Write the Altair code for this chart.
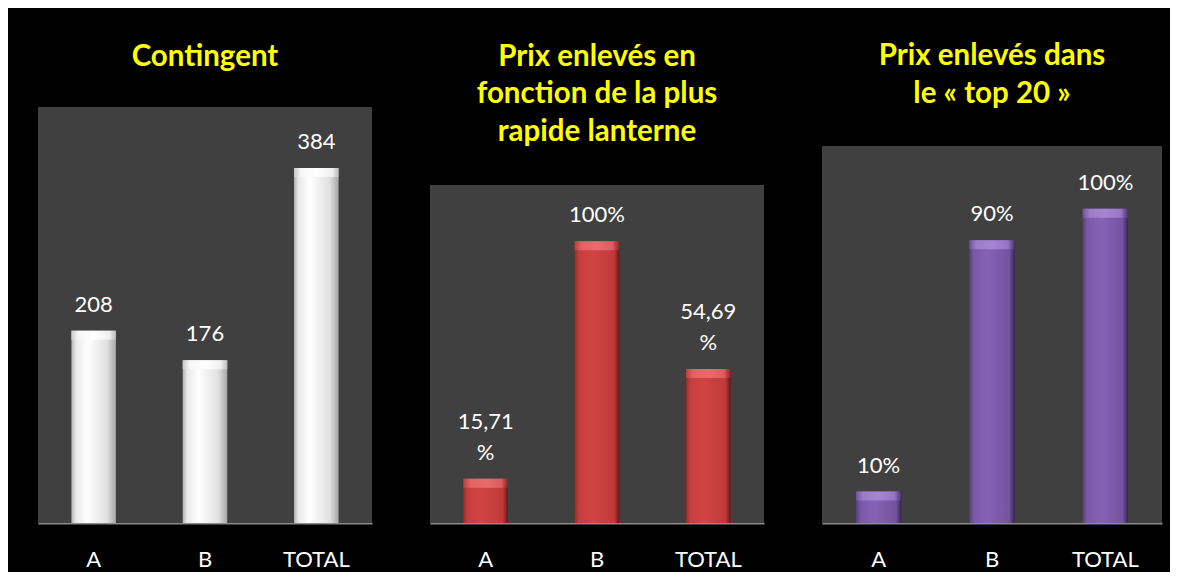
import altair as alt
import pandas as pd

categories = ["A", "B", "TOTAL"]

contingent_values = [208, 176, 384]
contingent_labels = ["208", "176", "384"]
contingent_axis_max = 450

lanterne_values = [0.1571, 1.00, 0.5469]
lanterne_labels = ["15,71\n%", "100%", "54,69\n%"]
lanterne_axis_max = 1.2

top20_values = [0.10, 0.90, 1.00]
top20_labels = ["10%", "90%", "100%"]
top20_axis_max = 1.2

title_contingent = ["Contingent"]
title_lanterne = ["Prix enlevés en", "fonction de la plus", "rapide lanterne"]
title_top20 = ["Prix enlevés dans", "le « top 20 »"]

FONT = "Lato"
VIEW_H = 416  # common height of each panel's drawing area


def grad(stops):
    return alt.Gradient(
        gradient="linear",
        stops=[alt.GradientStop(color=c, offset=o) for o, c in stops],
        x1=0, x2=1, y1=0, y2=0,
    )


white_grad = grad([(0, "#b4b4b4"), (0.1, "#e8e8e8"), (0.35, "#ffffff"),
                   (0.8, "#e0e0e0"), (1, "#a6a6a6")])
red_grad = grad([(0, "#9c2c2c"), (0.1, "#c63e3e"), (0.4, "#d24444"),
                 (0.88, "#c03a3a"), (1, "#641818")])
purple_grad = grad([(0, "#55407c"), (0.1, "#7a5aa8"), (0.4, "#8662b4"),
                    (0.88, "#7354a0"), (1, "#352552")])

white_top = grad([(0, "#c8c8c8"), (0.15, "#f6f6f6"), (0.5, "#ffffff"),
                  (0.85, "#f0f0f0"), (1, "#bcbcbc")])
red_top = grad([(0, "#b84040"), (0.15, "#e06262"), (0.5, "#e86c6c"),
                (0.85, "#dc5e5e"), (1, "#882424")])
purple_top = grad([(0, "#6e5498"), (0.15, "#9a7cc8"), (0.5, "#a486d4"),
                   (0.85, "#9676c4"), (1, "#48346a")])


def panel(values, labels, title, axis_max, width, plot_h, fill, top_fill, title_offset):
    df = pd.DataFrame({"cat": categories, "val": values, "label": labels})
    yscale = alt.Scale(domain=[0, axis_max * VIEW_H / plot_h], nice=False, zero=True)

    bg = alt.Chart(pd.DataFrame({"top": [axis_max]})).mark_rect(color="#404040").encode(
        x=alt.value(0),
        x2=alt.value(width),
        y=alt.Y("top:Q", scale=yscale, axis=None),
        y2=alt.datum(0),
    )

    base = alt.Chart(df).encode(
        x=alt.X(
            "cat:N",
            sort=categories,
            scale=alt.Scale(paddingInner=0.6, paddingOuter=0.3),
            axis=alt.Axis(
                title=None, labelAngle=0, ticks=False, tickSize=0, grid=False,
                domainColor="#8a8a8a", domainWidth=2,
                labelColor="#ffffff", labelFont=FONT, labelFontSize=22,
                labelPadding=26,
            ),
        ),
        y=alt.Y("val:Q", scale=yscale, axis=None),
    )
    bars = base.mark_bar(color=fill)
    bevel = base.mark_bar(color=top_fill, y2Offset=9).encode(
        y2=alt.Y2("val:Q"),
    )
    parts = "split(datum.label, '\\n')"
    text_base = base.transform_calculate(
        lower=f"peek({parts})",
        upper=f"length({parts}) > 1 ? {parts}[0] : ''",
    )
    text_low = text_base.mark_text(
        baseline="bottom", dy=-14, font=FONT, fontSize=22, color="#ffffff",
    ).encode(text="lower:N")
    text_up = text_base.mark_text(
        baseline="bottom", dy=-45, font=FONT, fontSize=22, color="#ffffff",
    ).encode(text="upper:N")

    return alt.layer(bg, bars, bevel, text_low, text_up).properties(
        width=width,
        height=VIEW_H,
        title=alt.TitleParams(
            text=title, color="#ffff00", font=FONT, fontSize=29.5,
            fontWeight="bold", lineHeight=37.5, offset=title_offset,
            anchor="middle",
        ),
    )


p1 = panel(contingent_values, contingent_labels, title_contingent,
           contingent_axis_max, 334, 416, white_grad, white_top, 28)
p2 = panel(lanterne_values, lanterne_labels, title_lanterne,
           lanterne_axis_max, 334, 338, red_grad, red_top, -40)
p3 = panel(top20_values, top20_labels, title_top20,
           top20_axis_max, 340, 377, purple_grad, purple_top, -2)

chart = (
    alt.hconcat(p1, p2, p3, spacing=58)
    .configure(background="#000000",
               padding={"left": 30, "top": 33, "right": 8, "bottom": 2})
    .configure_view(strokeWidth=0)
)

chart.save("out.html", embed_options={"renderer": "svg", "actions": False})
